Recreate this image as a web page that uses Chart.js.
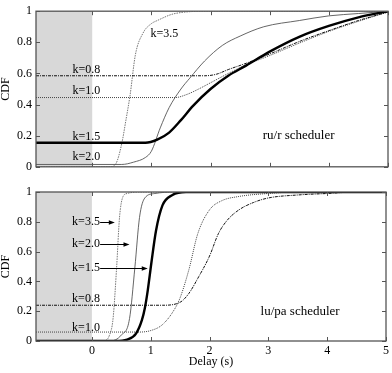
<!DOCTYPE html>
<html>
<head>
<meta charset="utf-8">
<script src="https://cdn.jsdelivr.net/npm/chart.js@4.4.1/dist/chart.umd.min.js"></script>
<style>
  html, body { margin: 0; padding: 0; background: #fff; }
  #wrap { position: relative; width: 392px; height: 373px; }
  #topChart { position: absolute; left: 0; top: 0; }
  #bottomChart { position: absolute; left: 0; top: 178px; }
</style>
</head>
<body>
<div id="wrap">
  <canvas id="topChart" width="392" height="178"></canvas>
  <canvas id="bottomChart" width="392" height="195"></canvas>
</div>
<script>
// axis ticks
const delayTicks = [0, 1, 2, 3, 4, 5];
const cdfTicks = [0, 0.2, 0.4, 0.6, 0.8, 1];
const kValues = ['k=1.5', 'k=0.8', 'k=1.0', 'k=2.0', 'k=3.5'];

// ru/r scheduler (top panel)
const ruK08Delay = [-0.95, 1.9, 2.1, 2.3, 2.6, 3.0, 3.5, 4.0, 4.5, 5.0];
const ruK08Cdf   = [0.585, 0.585, 0.595, 0.625, 0.665, 0.725, 0.805, 0.875, 0.94, 0.995];
const ruK10Delay = [-0.95, 1.4, 1.6, 1.8, 2.0, 2.3, 2.6, 3.0, 3.5, 4.0, 4.5, 5.0];
const ruK10Cdf   = [0.445, 0.445, 0.465, 0.50, 0.54, 0.60, 0.655, 0.715, 0.795, 0.87, 0.935, 0.995];
const ruK15Delay = [-0.95, 0.9, 1.1, 1.3, 1.5, 1.7, 2.0, 2.3, 2.6, 3.0, 3.5, 4.0, 4.5, 5.0];
const ruK15Cdf   = [0.155, 0.155, 0.175, 0.22, 0.30, 0.39, 0.50, 0.585, 0.65, 0.74, 0.835, 0.905, 0.96, 1.0];
const ruK20Delay = [-0.95, 0.5, 0.7, 0.9, 1.0, 1.15, 1.3, 1.5, 1.65, 1.9, 2.2, 2.5, 2.9, 3.5, 4.0, 4.5, 5.0];
const ruK20Cdf   = [0.015, 0.015, 0.03, 0.06, 0.10, 0.25, 0.38, 0.50, 0.57, 0.68, 0.78, 0.84, 0.90, 0.94, 0.97, 0.985, 1.0];
const ruK35Delay = [-0.95, 0.3, 0.4, 0.5, 0.57, 0.64, 0.73, 0.86, 1.0, 1.1, 1.4, 2.0, 5.0];
const ruK35Cdf   = [0.0, 0.0, 0.02, 0.15, 0.30, 0.46, 0.72, 0.86, 0.92, 0.94, 0.985, 1.0, 1.0];

// lu/pa scheduler (bottom panel)
const luK08Delay = [-0.95, 1.2, 1.5, 1.65, 1.8, 2.0, 2.15, 2.3, 2.5, 2.75, 3.0, 3.5, 4.0, 4.5, 5.0];
const luK08Cdf   = [0.24, 0.24, 0.26, 0.32, 0.42, 0.57, 0.72, 0.81, 0.88, 0.93, 0.96, 0.98, 0.99, 1.0, 1.0];
const luK10Delay = [-0.95, 0.8, 1.0, 1.2, 1.4, 1.5, 1.65, 1.8, 2.0, 2.2, 2.5, 3.0, 3.5, 5.0];
const luK10Cdf   = [0.06, 0.06, 0.07, 0.11, 0.21, 0.29, 0.48, 0.72, 0.88, 0.94, 0.97, 0.99, 1.0, 1.0];
const luK15Delay = [-0.95, 0.4, 0.6, 0.75, 0.85, 0.9, 0.95, 1.01, 1.09, 1.2, 1.37, 1.6, 5.0];
const luK15Cdf   = [0.0, 0.0, 0.01, 0.05, 0.14, 0.22, 0.34, 0.52, 0.74, 0.91, 0.98, 1.0, 1.0];
const luK20Delay = [-0.95, 0.3, 0.5, 0.64, 0.73, 0.81, 0.9, 1.07, 1.4, 5.0];
const luK20Cdf   = [0.0, 0.0, 0.04, 0.15, 0.49, 0.83, 0.96, 0.99, 1.0, 1.0];
const luK35Delay = [-0.95, 0.2, 0.3, 0.36, 0.42, 0.47, 0.53, 0.6, 0.8, 5.0];
const luK35Cdf   = [0.0, 0.0, 0.04, 0.15, 0.49, 0.83, 0.97, 0.99, 1.0, 1.0];

const serif = '"Liberation Serif", "Times New Roman", serif';

// line look for each k
const kStyles = {
    'k=0.8': { borderColor: '#111', borderWidth: 1, borderDash: [3, 1, 1, 1], order: 1 },
    'k=1.0': { borderColor: '#444', borderWidth: 1, borderDash: [1, 1], order: 1 },
    'k=1.5': { borderColor: '#000', borderWidth: 2.4, borderDash: [], order: 0 },
    'k=2.0': { borderColor: '#555', borderWidth: 0.9, borderDash: [], order: 1 },
    'k=3.5': { borderColor: '#666', borderWidth: 0.9, borderDash: [1.5, 1], order: 1 }
};

function makeSeries(label, xs, ys) {
    return Object.assign({
        label: label,
        data: xs.map((x, i) => ({ x: x, y: ys[i] })),
        pointRadius: 0,
        fill: false,
        cubicInterpolationMode: 'monotone'
    }, kStyles[label]);
}

// shaded area, frame, inside ticks, notes and arrows
const decorPlugin = {
    id: 'decor',
    beforeDatasetsDraw(chart) {
        const { ctx, chartArea, scales } = chart;
        const x0 = scales.x.getPixelForValue(0);
        ctx.save();
        ctx.fillStyle = '#d8d8d8';
        ctx.fillRect(chartArea.left, chartArea.top, x0 - chartArea.left, chartArea.bottom - chartArea.top);
        ctx.restore();
    },
    afterDatasetsDraw(chart, args, opts) {
        const { ctx, chartArea, scales } = chart;
        const a = chartArea;
        ctx.save();
        ctx.strokeStyle = '#555';
        ctx.lineWidth = 1;
        delayTicks.forEach(v => {
            const px = Math.round(scales.x.getPixelForValue(v)) + 0.5;
            ctx.beginPath();
            ctx.moveTo(px, a.top); ctx.lineTo(px, a.top + 4);
            ctx.moveTo(px, a.bottom); ctx.lineTo(px, a.bottom - 4);
            ctx.stroke();
        });
        cdfTicks.forEach(v => {
            const py = Math.round(scales.y.getPixelForValue(v)) + 0.5;
            ctx.beginPath();
            ctx.moveTo(a.left, py); ctx.lineTo(a.left + 4, py);
            ctx.moveTo(a.right, py); ctx.lineTo(a.right - 4, py);
            ctx.stroke();
        });
        ctx.lineWidth = 1.3;
        ctx.strokeRect(a.left, a.top, a.right - a.left, a.bottom - a.top);

        ctx.fillStyle = '#000';
        ctx.textAlign = 'center';
        ctx.textBaseline = 'middle';
        (opts.notes || []).forEach(n => {
            ctx.font = (n.size || 12) + 'px ' + serif;
            ctx.fillText(n.text, scales.x.getPixelForValue(n.x), scales.y.getPixelForValue(n.y));
        });

        ctx.strokeStyle = '#000';
        ctx.lineWidth = 1;
        (opts.arrows || []).forEach(ar => {
            const x1 = scales.x.getPixelForValue(ar.from);
            const x2 = scales.x.getPixelForValue(ar.to);
            const py = Math.round(scales.y.getPixelForValue(ar.y)) + 0.5;
            ctx.beginPath();
            ctx.moveTo(x1, py); ctx.lineTo(x2 - 4, py);
            ctx.stroke();
            ctx.beginPath();
            ctx.moveTo(x2, py); ctx.lineTo(x2 - 6, py - 2.2); ctx.lineTo(x2 - 6, py + 2.2);
            ctx.closePath();
            ctx.fill();
        });
        ctx.restore();
    }
};

function makeChart(canvasId, series, notes, arrows, isBottom) {
    const ctx = document.getElementById(canvasId).getContext('2d');
    return new Chart(ctx, {
        type: 'line',
        data: { datasets: series },
        options: {
            responsive: false,
            animation: false,
            layout: {
                autoPadding: false,
                padding: { left: 0, right: 4, top: isBottom ? 14 : 4, bottom: 0 }
            },
            plugins: {
                legend: { display: false },
                tooltip: { enabled: false },
                decor: { notes: notes, arrows: arrows }
            },
            scales: {
                x: {
                    type: 'linear',
                    min: -0.95,
                    max: 5,
                    grid: { display: false, drawTicks: false },
                    border: { display: false },
                    afterBuildTicks: s => { s.ticks = delayTicks.map(v => ({ value: v })); },
                    afterFit: s => { s.height = isBottom ? 32 : 10; },
                    ticks: {
                        display: isBottom,
                        padding: 3,
                        color: '#000',
                        font: { family: serif, size: 12 },
                        maxRotation: 0
                    },
                    title: {
                        display: isBottom,
                        text: 'Delay (s)',
                        color: '#000',
                        font: { family: serif, size: 12 },
                        padding: { top: 0, bottom: 4 }
                    }
                },
                y: {
                    min: 0,
                    max: 1,
                    grid: { display: false, drawTicks: false },
                    border: { display: false },
                    afterBuildTicks: s => { s.ticks = cdfTicks.map(v => ({ value: v })); },
                    afterFit: s => { s.width = 36; },
                    ticks: {
                        padding: 4,
                        color: '#000',
                        font: { family: serif, size: 12 },
                        callback: v => String(v)
                    },
                    title: {
                        display: true,
                        text: 'CDF',
                        color: '#000',
                        font: { family: serif, size: 12, lineHeight: 0.95 },
                        padding: { top: 0, bottom: 0 }
                    }
                }
            }
        },
        plugins: [decorPlugin]
    });
}

const topSeries = [
    makeSeries('k=1.5', ruK15Delay, ruK15Cdf),
    makeSeries('k=0.8', ruK08Delay, ruK08Cdf),
    makeSeries('k=1.0', ruK10Delay, ruK10Cdf),
    makeSeries('k=2.0', ruK20Delay, ruK20Cdf),
    makeSeries('k=3.5', ruK35Delay, ruK35Cdf)
];
const topNotes = [
    { text: 'k=3.5', x: 1.22, y: 0.855 },
    { text: 'k=0.8', x: -0.10, y: 0.62 },
    { text: 'k=1.0', x: -0.10, y: 0.49 },
    { text: 'k=1.5', x: -0.10, y: 0.195 },
    { text: 'k=2.0', x: -0.10, y: 0.067 },
    { text: 'ru/r scheduler', x: 3.49, y: 0.20, size: 13 }
];

const bottomSeries = [
    makeSeries('k=1.5', luK15Delay, luK15Cdf),
    makeSeries('k=0.8', luK08Delay, luK08Cdf),
    makeSeries('k=1.0', luK10Delay, luK10Cdf),
    makeSeries('k=2.0', luK20Delay, luK20Cdf),
    makeSeries('k=3.5', luK35Delay, luK35Cdf)
];
const bottomNotes = [
    { text: 'k=3.5', x: -0.10, y: 0.80 },
    { text: 'k=2.0', x: -0.10, y: 0.65 },
    { text: 'k=1.5', x: -0.10, y: 0.49 },
    { text: 'k=0.8', x: -0.10, y: 0.28 },
    { text: 'k=1.0', x: -0.10, y: 0.087 },
    { text: 'lu/pa scheduler', x: 3.54, y: 0.20, size: 13 }
];
const bottomArrows = [
    { from: 0.14, to: 0.39, y: 0.80 },
    { from: 0.14, to: 0.64, y: 0.65 },
    { from: 0.14, to: 0.95, y: 0.49 }
];

window.addEventListener('DOMContentLoaded', () => {
    makeChart('topChart', topSeries, topNotes, [], false);
    makeChart('bottomChart', bottomSeries, bottomNotes, bottomArrows, true);
});
</script>
</body>
</html>
